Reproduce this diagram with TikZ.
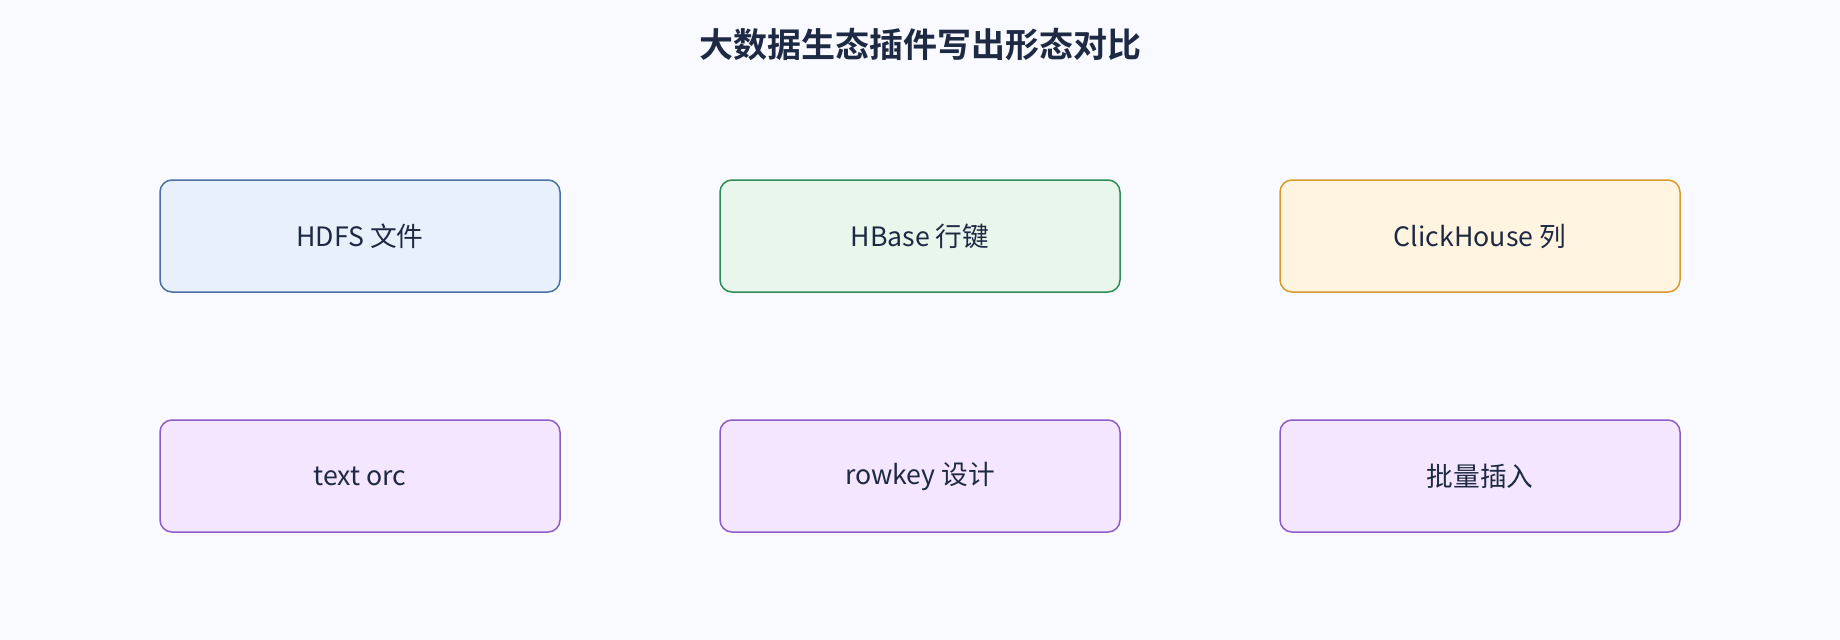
\documentclass[tikz,border=0pt]{standalone}
\usepackage{fontspec}
\setmainfont{Noto Sans CJK SC}
\newfontfamily\titlefont{Noto Sans CJK SC Bold}
\definecolor{bgc}{HTML}{F8FAFF}
\definecolor{txt}{HTML}{1E2A44}
\definecolor{bluef}{HTML}{E8F0FC}
\definecolor{blued}{HTML}{4A6FA5}
\definecolor{greenf}{HTML}{E9F6EC}
\definecolor{greend}{HTML}{2E8B57}
\definecolor{orangef}{HTML}{FFF4DF}
\definecolor{oranged}{HTML}{D99A2B}
\definecolor{purplef}{HTML}{F5E6FF}
\definecolor{purpled}{HTML}{8E5CC8}
\tikzset{
  x=1pt, y=-1pt,
  box/.style={draw, line width=1.5pt, rounded corners=12pt, minimum width=400pt, minimum height=112pt, inner sep=0pt, text=txt, font=\fontsize{26.7}{30}\selectfont},
}
\begin{document}
\begin{tikzpicture}
\fill[bgc] (0,0) rectangle (1840,640);
\useasboundingbox (0,0) rectangle (1840,640);
\node[text=txt, font=\titlefont\fontsize{34}{40}\selectfont] (title) at (920,45) {大数据生态插件写出形态对比};
\node[box, draw=blued, fill=bluef] (hdfs) at (360,236) {HDFS 文件};
\node[box, draw=greend, fill=greenf] (hbase) at (920,236) {HBase 行键};
\node[box, draw=oranged, fill=orangef] (ck) at (1480,236) {ClickHouse 列};
\node[box, draw=purpled, fill=purplef] (orc) at (360,476) {text orc};
\node[box, draw=purpled, fill=purplef] (rowkey) at (920,476) {rowkey 设计};
\node[box, draw=purpled, fill=purplef] (batch) at (1480,476) {批量插入};
\end{tikzpicture}
\end{document}
